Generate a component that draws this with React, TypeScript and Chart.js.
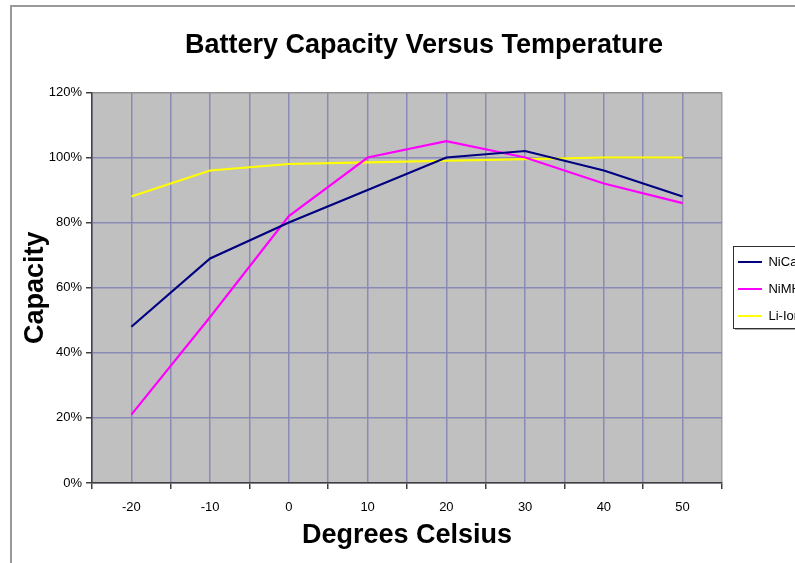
import React, { useEffect, useRef } from 'react';
import { Chart, registerables } from 'chart.js';

Chart.register(...registerables);

const chartTitle = 'Battery Capacity Versus Temperature';
const xAxisTitle = 'Degrees Celsius';
const yAxisTitle = 'Capacity';
const seriesNames = ['NiCad', 'NiMH', 'Li-Ion'];
const seriesColors = ['#000080', '#ff00ff', '#ffff00'];
const temperatures = [-20, -10, 0, 10, 20, 30, 40, 50];
const nicad = [48, 69, 80, 90, 100, 102, 96, 88];
const nimh = [21, 51, 82, 100, 105, 100, 92, 86];
const liIon = [88, 96, 98, 98.5, 99, 99.5, 100, 100];
const yTicks = [0, 20, 40, 60, 80, 100, 120];

const FONT = '"Liberation Sans", Arial, Helvetica, sans-serif';
const GRID = '#8a8ab6';
const AXIS = '#404040';

const spacerAxis = (width: number, weight: number) => ({
  type: 'linear' as const,
  position: 'right' as const,
  display: true,
  weight,
  min: 0,
  max: 1,
  grid: { display: false, drawTicks: false },
  ticks: { display: false },
  border: { display: false },
  title: { display: false },
  afterFit: (s: any) => {
    s.width = width;
  },
});

export default function App() {
  const ref = useRef<HTMLCanvasElement>(null);

  useEffect(() => {
    const canvas = ref.current!;
    const series = [nicad, nimh, liIon];

    const plotDecor = {
      id: 'plotDecor',
      beforeDraw(chart: any) {
        const { ctx, chartArea: a } = chart;
        ctx.save();
        ctx.fillStyle = '#c0c0c0';
        ctx.fillRect(a.left, a.top, a.right - a.left, a.bottom - a.top);
        const lg = chart.legend;
        if (lg && lg.legendHitBoxes && lg.legendHitBoxes.length) {
          const hb = lg.legendHitBoxes;
          const top = Math.round(hb[0].top - 10);
          const bottom = Math.round(hb[hb.length - 1].top + hb[hb.length - 1].height + 5);
          const left = Math.round(a.right + 11);
          const right = left + 90;
          ctx.fillStyle = '#a8a8a8';
          ctx.fillRect(left + 2, top + 2, right - left, bottom - top);
          ctx.fillStyle = '#ffffff';
          ctx.fillRect(left, top, right - left, bottom - top);
          ctx.strokeStyle = '#303030';
          ctx.lineWidth = 1;
          ctx.strokeRect(left + 0.5, top + 0.5, right - left, bottom - top);
        }
        ctx.restore();
      },
    };

    const chart = new Chart(canvas, {
      type: 'line',
      data: {
        datasets: series.map((vals, i) => ({
          label: seriesNames[i],
          data: temperatures.map((t, j) => ({ x: t, y: vals[j] })),
          borderColor: seriesColors[i],
          backgroundColor: seriesColors[i],
          borderWidth: 2.2,
          pointRadius: 0,
          tension: 0,
          fill: false,
        })),
      },
      options: {
        animation: false,
        responsive: false,
        maintainAspectRatio: false,
        layout: { padding: 0 },
        plugins: {
          title: {
            display: true,
            text: chartTitle,
            color: '#000',
            font: { family: FONT, size: 27, weight: 'bold' },
            padding: { top: 29, bottom: 31 },
          },
          legend: {
            position: 'right',
            title: {
              display: true,
              text: ' ',
              font: { family: FONT, size: 10 },
              padding: 1.5,
            },
            labels: {
              boxWidth: 24,
              boxHeight: 2,
              padding: 14,
              color: '#000',
              font: { family: FONT, size: 13 },
              generateLabels: (c: any) =>
                Chart.defaults.plugins.legend.labels
                  .generateLabels(c)
                  .map((l: any) => ({ ...l, fillStyle: l.strokeStyle, lineWidth: 0 })),
            },
          },
          tooltip: { enabled: false },
        },
        scales: {
          x: {
            type: 'linear',
            min: -25,
            max: 55,
            afterFit: (s: any) => {
              s.height = 80;
            },
            ticks: {
              stepSize: 5,
              autoSkip: false,
              maxRotation: 0,
              color: '#000',
              font: { family: FONT, size: 13 },
              padding: 11,
              callback: (v: any) => (Number(v) % 10 === 0 ? String(v) : ''),
            },
            grid: {
              color: (c: any) => (c.tick && c.tick.value === 55 ? '#a0a0a0' : GRID),
              lineWidth: 1.5,
              tickLength: 6,
              tickWidth: 1.5,
              tickColor: (c: any) =>
                c.tick && Number(c.tick.value) % 10 === 0 ? 'rgba(0,0,0,0)' : AXIS,
            },
            border: { display: true, color: AXIS, width: 1.5 },
            title: {
              display: true,
              text: xAxisTitle,
              color: '#000',
              font: { family: FONT, size: 27, weight: 'bold' },
              padding: { top: 4, bottom: 11 },
            },
          },
          y: {
            min: 0,
            max: 120,
            afterFit: (s: any) => {
              s.width = 92;
            },
            afterBuildTicks: (s: any) => {
              s.ticks = yTicks.map((v) => ({ value: v }));
            },
            ticks: {
              color: '#000',
              font: { family: FONT, size: 13 },
              padding: 4,
              callback: (v: any) => v + '%',
            },
            grid: {
              color: (c: any) => (c.tick && c.tick.value === 120 ? '#909090' : GRID),
              lineWidth: 1.5,
              tickLength: 6,
              tickWidth: 1.5,
              tickColor: AXIS,
            },
            border: { display: true, color: AXIS, width: 1.5 },
            title: {
              display: true,
              text: yAxisTitle,
              color: '#000',
              font: { family: FONT, size: 27, weight: 'bold' },
              padding: { top: 19, bottom: 0 },
            },
          },
          gapInner: spacerAxis(2, 1),
          gapOuter: spacerAxis(33.4, 2000),
        },
      },
      plugins: [plotDecor],
    });

    return () => chart.destroy();
  }, []);

  return (
    <div style={{ position: 'fixed', inset: 0, overflow: 'hidden', background: '#fff' }}>
      <div
        style={{
          position: 'absolute',
          left: 10,
          top: 5,
          width: 1000,
          height: 1000,
          borderLeft: '2px solid #999',
          borderTop: '2px solid #999',
        }}
      />
      <canvas
        ref={ref}
        width={848}
        height={563}
        style={{ position: 'absolute', left: 0, top: 0, width: 848, height: 563 }}
      />
    </div>
  );
}
